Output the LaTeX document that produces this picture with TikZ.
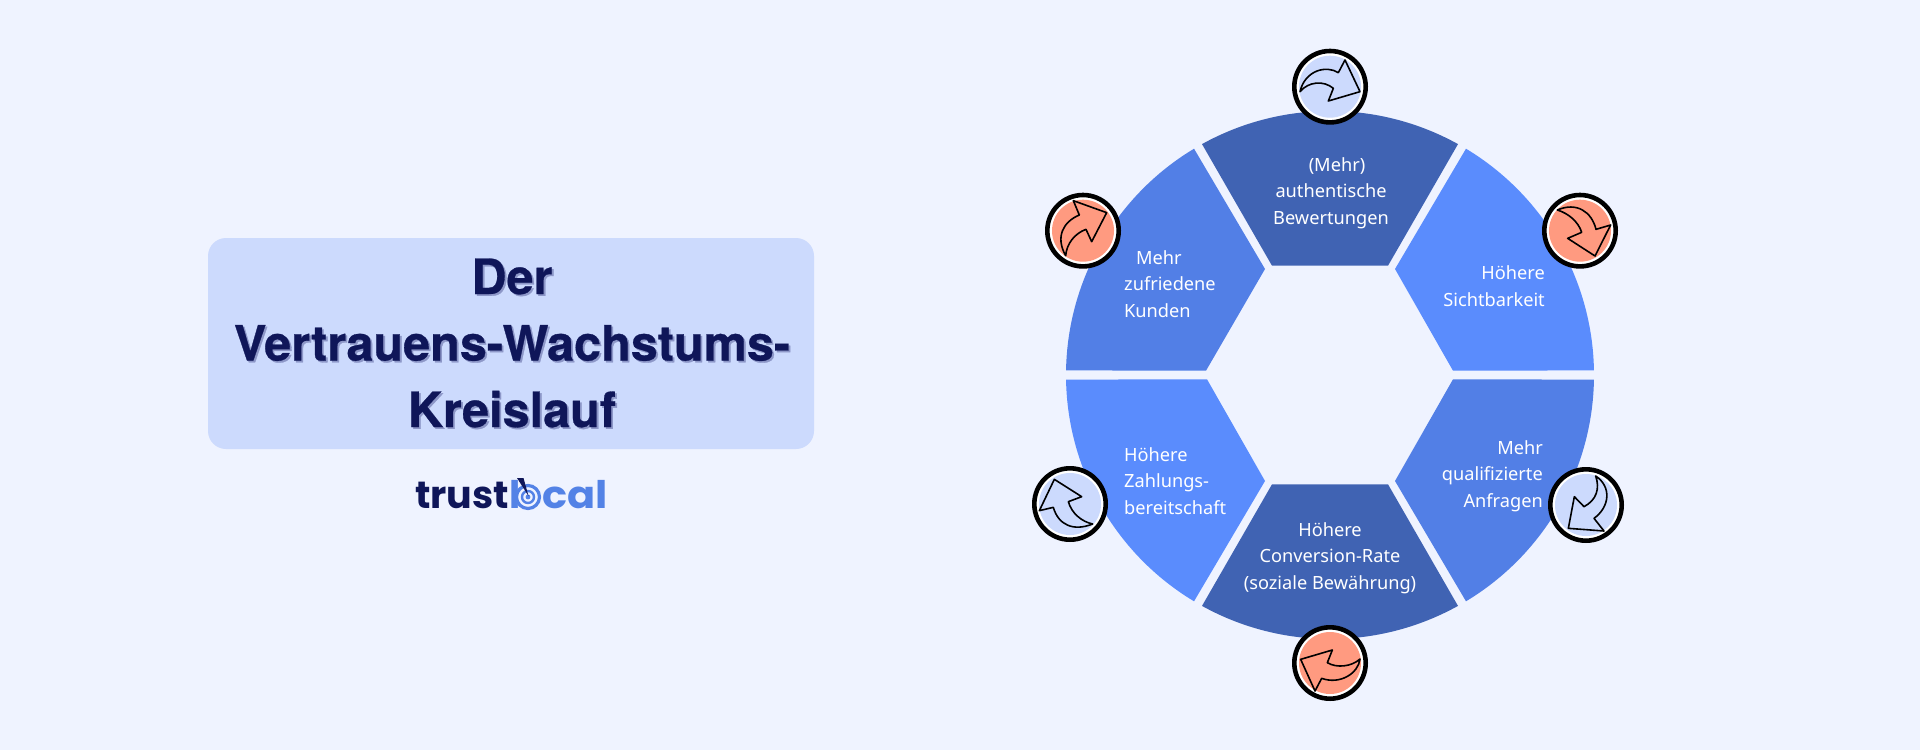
\documentclass[tikz,border=0pt]{standalone}
\usepackage{fontspec}
\usepackage{graphicx}
\newfontfamily\lblfont{Noto Sans}
\newfontfamily\ttlfont{TeX Gyre Heros Bold}[FakeBold=0.6]
\newfontfamily\logofont{Poppins}[BoldFont={* Bold}]
\definecolor{bgc}{HTML}{EFF3FF}
\definecolor{boxc}{HTML}{CCDAFD}
\definecolor{ttlc}{HTML}{0F1659}
\definecolor{shdc}{HTML}{8D97C8}
\definecolor{darkseg}{HTML}{4063B3}
\definecolor{brightseg}{HTML}{5A8CFD}
\definecolor{midseg}{HTML}{527FE6}
\definecolor{salmon}{HTML}{FF9A80}
\definecolor{logoblue}{HTML}{5382E6}
\tikzset{
  x=1pt,y=-1pt,
  lbl/.style={text=white,font=\lblfont\fontsize{18.2}{26.5}\selectfont,inner sep=0pt},
  ttl/.style={font=\ttlfont\fontsize{48.6}{66.5}\selectfont,align=center,inner sep=0pt},
  ring/.style={draw=black,line width=4.6pt,fill=white,circle,minimum size=71.4pt,inner sep=0pt},
  arw/.style={draw=black,line width=1.6pt,line join=round},
  logo/.style={font=\logofont\bfseries\fontsize{38}{38}\selectfont,inner sep=0pt,anchor=base west}
}
\begin{document}
\begin{tikzpicture}
\useasboundingbox (0,0) rectangle (1920,750);
\fill[bgc] (0,0) rectangle (1920,750);
\coordinate (O) at (1330,375);
% title box
\fill[boxc,rounded corners=18pt] (208,238) rectangle (814,449);
\node[ttl,text=shdc] (ttlshadow) at (513.8,344.8) {Der\\Vertrauens-Wachstums-\\Kreislauf};
\node[ttl,text=ttlc] (ttl) at (512,343) {Der\\Vertrauens-Wachstums-\\Kreislauf};
% logo
\node[logo,text=ttlc] (ltrust) at (415,508) {trust};
\node[logo,text=logoblue] (ll) at (509,508) {l};
\node[logo,text=logoblue] (lcal) at (542,508) {\scalebox{1.09}[1]{cal}};
\draw[logoblue,line width=3.2pt] (528,497) circle[radius=11.5pt];
\draw[logoblue,line width=2.4pt] (528,497) circle[radius=6pt];
\fill[logoblue] (528,497) circle[radius=2.4pt];
\fill[ttlc] (517,478) -- (523.5,478) -- (528.5,496) -- cycle;
% segments
\fill[darkseg] (O) ++(61:264pt) arc[start angle=61,end angle=119,radius=264pt] -- (1272,265.7) -- (1388,265.7) -- cycle;
\fill[brightseg] (O) ++(59:264pt) arc[start angle=59,end angle=1,radius=264pt] -- (1453,370.7) -- (1395,269) -- cycle;
\fill[midseg] (O) ++(-1:264pt) arc[start angle=-1,end angle=-59,radius=264pt] -- (1395,481) -- (1453,379.3) -- cycle;
\fill[darkseg] (O) ++(-61:264pt) arc[start angle=-61,end angle=-119,radius=264pt] -- (1272,484.3) -- (1388,484.3) -- cycle;
\fill[brightseg] (O) ++(-121:264pt) arc[start angle=-121,end angle=-179,radius=264pt] -- (1207,379.3) -- (1265,481) -- cycle;
\fill[midseg] (O) ++(179:264pt) arc[start angle=179,end angle=121,radius=264pt] -- (1265,269) -- (1206,370.7) -- cycle;
% labels
\node[lbl,align=center] (t1) at (1331,193) {\hspace*{12pt}(Mehr)\\authentische\\Bewertungen};
\node[lbl,align=right,anchor=east] (t2) at (1545,286) {Höhere\\Sichtbarkeit};
\node[lbl,align=right,anchor=east] (t3) at (1543,476) {Mehr\\qualifizierte\\Anfragen};
\node[lbl,align=center] (t4) at (1330,558) {Höhere\\Conversion-Rate\\(soziale Bewährung)};
\node[lbl,align=left,anchor=west] (t5) at (1124,481) {Höhere\\Zahlungs-\\bereitschaft};
\node[lbl,align=left,anchor=west] (t6) at (1124,284) {\hspace*{12pt}Mehr\\zufriedene\\Kunden};
% badges
\node[ring] (b1) at (1330,86.7) {};
\fill[boxc] (b1) circle[radius=31pt];
\begin{scope}[shift={(1270,30)},scale=1/3]
\draw[arw] (90,185) .. controls (105,120) and (170,105) .. (205,128) -- (225,90) -- (270,185) -- (175,213) -- (190,175) .. controls (160,150) and (115,155) .. (90,185) -- cycle;
\end{scope}
\node[ring] (b2) at (1580,230.7) {};
\fill[salmon] (b2) circle[radius=31pt];
\begin{scope}[shift={(1270,30)},scale=1/3]
\draw[arw] (862,540) .. controls (920,515) and (965,545) .. (978,598) -- (1022,585) -- (975,678) -- (893,625) -- (935,607) .. controls (925,575) and (895,550) .. (862,540) -- cycle;
\end{scope}
\node[ring] (b3) at (1586,505) {};
\fill[boxc] (b3) circle[radius=31pt];
\begin{scope}[shift={(1530,450)},scale=1/3]
\draw[arw] (197,78) .. controls (245,110) and (240,170) .. (192,205) -- (222,243) -- (115,235) -- (133,140) -- (162,170) .. controls (200,150) and (210,115) .. (197,78) -- cycle;
\end{scope}
\node[ring] (b4) at (1330,663) {};
\fill[salmon] (b4) circle[radius=31pt];
\begin{scope}[shift={(1270,610)},scale=1/3]
\draw[arw] (92,148) -- (187,120) -- (172,158) .. controls (200,175) and (245,170) .. (270,147) .. controls (265,190) and (210,225) .. (155,205) -- (135,243) -- cycle;
\end{scope}
\node[ring] (b5) at (1070,504) {};
\fill[boxc] (b5) circle[radius=31pt];
\begin{scope}[shift={(1010,450)},scale=1/3]
\draw[arw] (133,88) -- (215,140) -- (175,155) .. controls (185,190) and (215,215) .. (248,222) .. controls (190,245) and (145,225) .. (130,172) -- (88,182) -- cycle;
\end{scope}
\node[ring] (b6) at (1083,230.7) {};
\fill[salmon] (b6) circle[radius=31pt];
\begin{scope}[shift={(1000,170)},scale=1/3]
\draw[arw] (197,257) .. controls (165,200) and (190,155) .. (238,135) -- (220,92) -- (320,128) -- (275,215) -- (258,178) .. controls (225,190) and (200,220) .. (197,257) -- cycle;
\end{scope}
\end{tikzpicture}
\end{document}
